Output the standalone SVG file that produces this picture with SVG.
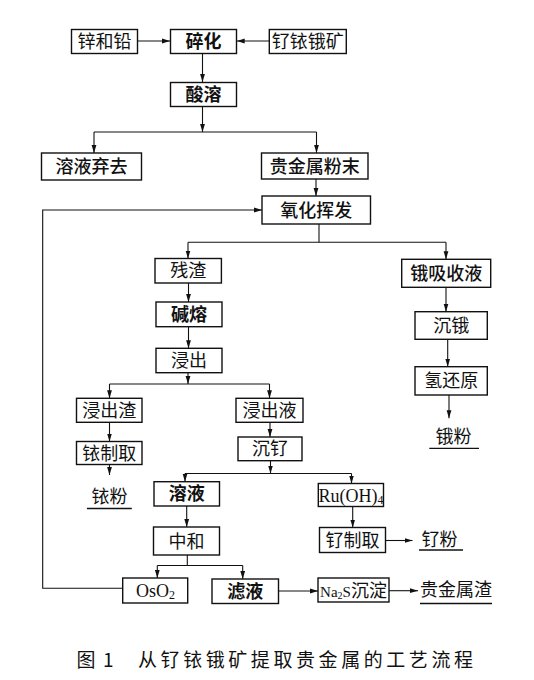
<svg xmlns="http://www.w3.org/2000/svg" width="534" height="680" viewBox="0 0 534 680">
<defs>
<marker id="arr" markerUnits="userSpaceOnUse" markerWidth="8" markerHeight="6" viewBox="0 0 8 6" refX="8" refY="3" orient="auto">
<path d="M0,0.6 L8,3 L0,5.4 z" fill="#111"/>
</marker>
</defs>
<style>
rect.b{fill:#fff;stroke:#111;stroke-width:1.4}
text{font-family:"Noto Sans CJK SC","Noto Sans CJK JP",sans-serif;font-size:18px;fill:#111;text-anchor:middle}
.bd{font-weight:700}
.md{font-weight:500}
.lat{font-family:"Liberation Serif","DejaVu Serif",serif}
#edges path{fill:none;stroke:#111;stroke-width:1.1}
#edges path.a{marker-end:url(#arr)}
line.u{stroke:#111;stroke-width:1.3}
.cap{font-size:19px;text-anchor:start}
</style>
<rect width="534" height="680" fill="#fff"/>
<g id="edges">
<path class="a" d="M137.5,41 H170"/>
<path class="a" d="M269.3,41 H236.7"/>
<path class="a" d="M202.5,53.5 V82"/>
<path class="a" d="M202.5,106 V132"/>
<path d="M94,132 H316.5"/>
<path class="a" d="M94,132 V153"/>
<path class="a" d="M316.5,132 V153"/>
<path class="a" d="M316,179 V196"/>
<path d="M319,224 V242.3"/>
<path d="M188,242.3 H446"/>
<path class="a" d="M188,242.3 V258.5"/>
<path class="a" d="M446,242.3 V259.3"/>
<path class="a" d="M188.5,283 V302"/>
<path class="a" d="M188.5,326.7 V348.3"/>
<path class="a" d="M188,372.7 V384"/>
<path d="M109.5,384 H269.5"/>
<path class="a" d="M109.5,384 V398.3"/>
<path class="a" d="M269.5,384 V398.3"/>
<path class="a" d="M109.5,422.3 V441.5"/>
<path class="a" d="M270,422.3 V437"/>
<path class="a" d="M109.5,464.5 V475"/>
<path class="a" d="M270.5,460.7 V473.5"/>
<path d="M185,473.5 H351.5"/>
<path class="a" d="M185,473.5 V481.7"/>
<path class="a" d="M351.5,473.5 V483.5"/>
<path class="a" d="M186.7,506 V527"/>
<path class="a" d="M352.7,506.5 V527.5"/>
<path class="a" d="M385.5,540.5 H412.5"/>
<path d="M187.3,555 V565.5"/>
<path d="M157.3,565.5 H242.7"/>
<path class="a" d="M157.3,565.5 V578"/>
<path class="a" d="M242.7,565.5 V579"/>
<path class="a" d="M278.5,591 H318"/>
<path class="a" d="M389,590.7 H418"/>
<path class="a" d="M122.7,588.3 H42.7 V210 H262"/>
<path class="a" d="M446,287.3 V311.7"/>
<path class="a" d="M447.7,339.3 V366.7"/>
<path class="a" d="M449,395 V418.3"/>
</g>
<g id="n-xinhe"><rect class="b" x="71.5" y="29.5" width="66" height="24"/><text x="104.5" y="48">锌和铅</text></g>
<g id="n-suihua"><rect class="b" x="170.5" y="29.5" width="66" height="24"/><text class="bd" x="203.5" y="48">碎化</text></g>
<g id="n-ore"><rect class="b" x="269.3" y="29.5" width="77" height="24"/><text x="307.8" y="48">钌铱锇矿</text></g>
<g id="n-suanrong"><rect class="b" x="170.5" y="82.5" width="66" height="24"/><text class="bd" x="203.5" y="101">酸溶</text></g>
<g id="n-qiqu"><rect class="b" x="41.5" y="153" width="100" height="27"/><text class="md" x="91.5" y="173">溶液弃去</text></g>
<g id="n-fenmo"><rect class="b" x="261.5" y="153" width="106.5" height="26"/><text class="md" x="314.7" y="172.5">贵金属粉末</text></g>
<g id="n-yanghua"><rect class="b" x="262" y="196" width="108.5" height="28"/><text class="md" x="316.2" y="216.5">氧化挥发</text></g>
<g id="n-canzha"><rect class="b" x="155" y="258.5" width="66.4" height="24.5"/><text x="188.2" y="277.3">残渣</text></g>
<g id="n-jianrong"><rect class="b" x="156" y="302" width="66" height="24.7"/><text class="bd" x="189" y="320.9">碱熔</text></g>
<g id="n-jinchu"><rect class="b" x="156" y="348.3" width="66" height="24.4"/><text x="189" y="367">浸出</text></g>
<g id="n-jinchuzha"><rect class="b" x="76.5" y="398.3" width="65.5" height="24"/><text x="109.2" y="416.8">浸出渣</text></g>
<g id="n-jinchuye"><rect class="b" x="236" y="398.3" width="67" height="24"/><text x="269.5" y="416.8">浸出液</text></g>
<g id="n-yizhiqu"><rect class="b" x="76.5" y="441.5" width="65.5" height="23"/><text x="109.2" y="459.5">铱制取</text></g>
<g id="n-fenliao"><rect class="b" x="238" y="437" width="64" height="23.7"/><text x="270" y="455.3">沉钌</text></g>
<g id="n-yifen"><text x="109.5" y="502.5">铱粉</text><line class="u" x1="86.9" y1="508.5" x2="131.8" y2="508.5"/></g>
<g id="n-rongye"><rect class="b" x="154" y="481.7" width="65.5" height="24.3"/><text class="bd" x="186.7" y="500.3">溶液</text></g>
<g id="n-ruoh"><rect class="b" x="318.3" y="483.5" width="65.2" height="23"/><text class="lat" x="351" y="501.5" font-size="17">Ru(OH)<tspan font-size="12" dy="2">4</tspan></text></g>
<g id="n-zhonghe"><rect class="b" x="153.5" y="527" width="66" height="28"/><text x="186.5" y="547.5">中和</text></g>
<g id="n-ruzhiqu"><rect class="b" x="319.5" y="527.5" width="66" height="25"/><text x="352.5" y="546.5">钌制取</text></g>
<g id="n-rufen"><text x="439.5" y="545.5">钌粉</text><line class="u" x1="419" y1="550" x2="463" y2="550"/></g>
<g id="n-oso2"><rect class="b" x="122.7" y="578" width="65" height="25"/><text class="lat" x="155.5" y="596.5" font-size="16">OsO<tspan font-size="12" dy="2">2</tspan></text></g>
<g id="n-lvye"><rect class="b" x="212" y="579" width="66.5" height="24.5"/><text class="bd" x="245.2" y="597.8">滤液</text></g>
<g id="n-na2s"><rect class="b" x="318" y="578" width="71" height="24"/><text x="353.5" y="596.5"><tspan class="lat" font-size="15">Na</tspan><tspan class="lat" font-size="10" dy="2">2</tspan><tspan class="lat" font-size="15" dy="-2">S</tspan><tspan>沉淀</tspan></text></g>
<g id="n-zha"><text x="456" y="596">贵金属渣</text><line class="u" x1="420" y1="603.5" x2="492" y2="603.5"/></g>
<g id="n-osye"><rect class="b" x="401.7" y="259.3" width="89" height="28"/><text class="md" x="446.2" y="279.8">锇吸收液</text></g>
<g id="n-chene"><rect class="b" x="415" y="311.7" width="72.3" height="27.6"/><text x="451.2" y="332">沉锇</text></g>
<g id="n-qinghuan"><rect class="b" x="415" y="366.7" width="72.3" height="28.3"/><text x="451.2" y="387.3">氢还原</text></g>
<g id="n-efen"><text x="453.4" y="443">锇粉</text><line class="u" x1="429.3" y1="448.3" x2="479" y2="448.3"/></g>
<g id="caption"><text class="cap" x="76.6" y="667">图<tspan x="103">1</tspan></text><text class="cap" x="138" y="667" textLength="335" lengthAdjust="spacing">从钌铱锇矿提取贵金属的工艺流程</text></g>
</svg>
